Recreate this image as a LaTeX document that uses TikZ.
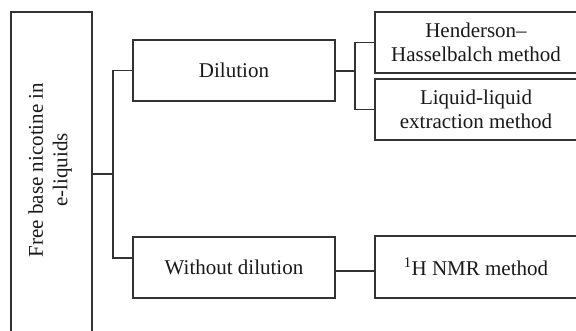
\documentclass[tikz,border=0pt]{standalone}
\usepackage{fontspec}
\setmainfont{Liberation Serif}
\begin{document}
\begin{tikzpicture}[x=1pt,y=-1pt,
  line/.style={draw=black!80, line width=1.3pt},
  box/.style={line, rectangle, align=center, inner sep=0pt, text=black!90,
    font=\fontsize{21}{24.5}\selectfont, minimum width=202pt, minimum height=61pt}]
\useasboundingbox (0,0) rectangle (576,331);
\clip (0,0) rectangle (576,331);
% root box (extends below the picture)
\node[line, rectangle, inner sep=0pt, minimum width=81pt, minimum height=333pt] (rootbox) at (51.5,178.5) {};
\node[rotate=90, align=center, text=black!90, font=\fontsize{21}{24.5}\selectfont, inner sep=0pt] (roottext) at (50,170) {Free base nicotine in\\e-liquids};
% second level
\node[box] (dil) at (234,70.5) {Dilution};
\node[box] (wo) at (234,267.5) {Without dilution};
% third level
\node[box] (hh) at (476,42.5) {Henderson–\\Hasselbalch method};
\node[box] (ll) at (476,109.5) {Liquid-liquid\\extraction method};
\node[box, minimum height=62pt] (nmr) at (476,267) {\textsuperscript{1}H NMR method};
% connectors
\coordinate (j0) at (113,174);
\coordinate (j1) at (355,71);
\draw[line] (rootbox.east |- j0) -- (j0);
\draw[line] (dil.west) -| (j0) |- (wo.west |- 0,258);
\draw[line] (dil.east |- j1) -- (j1);
\draw[line] (hh.west) -| (j1) |- (ll.west);
\draw[line] (wo.east |- 0,271) -- (nmr.west |- 0,271);
\end{tikzpicture}
\end{document}
